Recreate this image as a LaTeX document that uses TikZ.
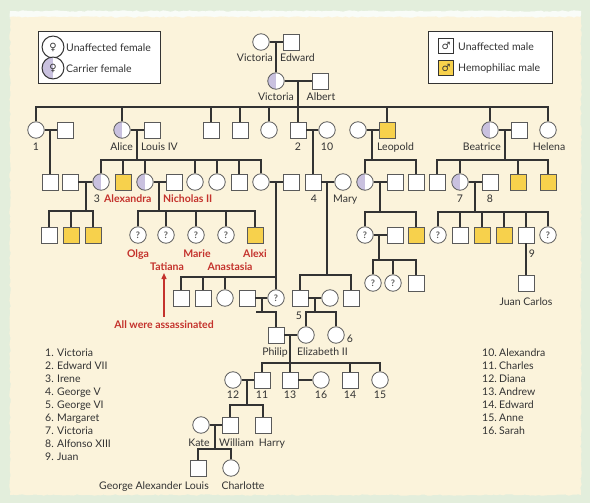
\documentclass[tikz,border=0pt]{standalone}
\usepackage{fontspec}
\setmainfont{Lato}
\newfontfamily\signfont{DejaVu Sans}
\usetikzlibrary{arrows.meta,decorations.pathmorphing}

\definecolor{mint}{HTML}{E3EEDC}
\definecolor{paper}{HTML}{FBF3DB}
\definecolor{lav}{HTML}{C9C1DF}
\definecolor{hemoyellow}{HTML}{F7D14C}
\definecolor{kinred}{HTML}{C4322C}
\definecolor{ink}{HTML}{333333}
\definecolor{edge}{HTML}{5A5A5A}

\tikzset{
  person/.style={draw=edge, fill=white, line width=0.8pt, inner sep=0pt},
  fem/.style={person, circle, minimum size=16.5pt},
  mal/.style={person, rectangle, minimum size=16pt},
  carrier/.style={fem, path picture={\fill[lav] (path picture bounding box.south west) rectangle (path picture bounding box.north);}},
  hemo/.style={mal, fill=hemoyellow},
  unk/.style={fem, text=edge, font=\fontsize{9}{9}\selectfont\bfseries},
  kin/.style={draw=ink, line width=1.2pt},
  lab/.style={anchor=base, inner sep=0pt, text=ink, font=\fontsize{10.5}{12}\selectfont},
  redlab/.style={lab, text=kinred, font=\fontsize{10.5}{12}\selectfont\bfseries},
  sign/.style={text=ink, font=\signfont\fontsize{10}{10}\selectfont}
}

\begin{document}
\begin{tikzpicture}[x=1pt,y=-1pt]
\useasboundingbox (0,0) rectangle (590,503);
% paper
\fill[mint] (0,0) rectangle (590,503);
\fill[white!80!mint, decorate, decoration={random steps,segment length=3pt,amplitude=0.7pt}]
  (10,11) -- (581,11) -- (581,19) -- (10,19) -- cycle;
\fill[paper, decorate, decoration={random steps,segment length=3pt,amplitude=0.7pt}]
  (10,17) -- (581,17) -- (581,495) -- (10,495) -- cycle;

% key
\node[draw=ink, fill=white, line width=0.8pt, minimum width=122pt, minimum height=52pt] (keyF) at (99,57) {};
\node[draw=ink, fill=white, line width=0.8pt, minimum width=124pt, minimum height=52pt] (keyM) at (490,57) {};
\node[fem, draw=ink, line width=1pt, minimum size=15.5pt] (keyF1) at (53,47) {\tikz[baseline]\node[sign,inner sep=0pt]{♀};};
\node[carrier, draw=ink, line width=1pt, minimum size=15.5pt] (keyF2) at (53,68) {\tikz[baseline]\node[sign,inner sep=0pt]{♀};};
\node[mal, draw=ink, line width=1pt, minimum size=15pt] (keyM1) at (446,46) {\tikz[baseline]\node[sign,inner sep=0pt]{♂};};
\node[hemo, draw=ink, line width=1pt, minimum size=15pt] (keyM2) at (446,68) {\tikz[baseline]\node[sign,inner sep=0pt]{♂};};
\node[lab, anchor=base west] (keyF1t) at (66,51.5) {Unaffected female};
\node[lab, anchor=base west] (keyF2t) at (66,73) {Carrier female};
\node[lab, anchor=base west] (keyM1t) at (458,51) {Unaffected male};
\node[lab, anchor=base west] (keyM2t) at (458,72) {Hemophiliac male};

% generation I and II
\node[fem] (vicI) at (261,42) {};
\node[mal] (edward) at (291,42) {};
\node[carrier] (vicII) at (276,81) {};
\node[mal] (albert) at (320,81) {};

% Victoria's children
\node[fem] (vicky) at (36,130) {};
\node[mal] (vickyH) at (65,130) {};
\node[carrier] (alice) at (122,130) {};
\node[mal] (louis) at (152,130) {};
\node[mal] (sonA) at (211,130) {};
\node[mal] (sonB) at (240,130) {};
\node[fem] (dauA) at (269,130) {};
\node[mal] (edw7) at (298,130) {};
\node[fem] (alexD) at (327,130) {};
\node[fem] (leoW) at (358,130) {};
\node[hemo] (leopold) at (387,130) {};
\node[carrier] (beatrice) at (490,130) {};
\node[mal] (beatriceH) at (519,130) {};
\node[fem] (helena) at (548,130) {};

% grandchildren
\node[mal] (vickyS) at (50,182) {};
\node[mal] (ireneH) at (70,182) {};
\node[carrier] (irene) at (101,182) {};
\node[hemo] (aliceS) at (123,182) {};
\node[carrier] (alexandra) at (145,182) {};
\node[mal] (nicholas) at (174,182) {};
\node[fem] (aliceD1) at (195,182) {};
\node[fem] (aliceD2) at (217,182) {};
\node[mal] (aliceS2) at (239,182) {};
\node[fem] (aliceD3) at (261,182) {};
\node[mal] (aliceD3H) at (291,182) {};
\node[mal] (george5) at (313,182) {};
\node[fem] (mary) at (343,182) {};
\node[carrier] (leoD) at (365,182) {};
\node[mal] (leoDH) at (395,182) {};
\node[mal] (leoS) at (416,182) {};
\node[mal] (beaS1) at (437,182) {};
\node[carrier] (vic7) at (460,182) {};
\node[mal] (alfonso) at (490,182) {};
\node[hemo] (beaS2) at (518,182) {};
\node[hemo] (beaS3) at (548,182) {};

% great-grandchildren
\node[mal] (ireneS1) at (49,235) {};
\node[hemo] (ireneS2) at (71,235) {};
\node[hemo] (ireneS3) at (93,235) {};
\node[unk] (olga) at (138,235) {?};
\node[unk] (tatiana) at (166,235) {?};
\node[unk] (marie) at (196,235) {?};
\node[unk] (anastasia) at (226,235) {?};
\node[hemo] (alexi) at (255,235) {};
\node[unk] (leoG) at (365,235) {?};
\node[mal] (leoGH) at (395,235) {};
\node[hemo] (leoGS) at (416,235) {};
\node[unk] (vic7D1) at (438,235) {?};
\node[mal] (vic7S1) at (460,235) {};
\node[hemo] (vic7S2) at (482,235) {};
\node[hemo] (vic7S3) at (504,235) {};
\node[mal] (juan) at (526,235) {};
\node[unk] (vic7D2) at (548,235) {?};

\node[unk] (leoGG1) at (373,283) {?};
\node[unk] (leoGG2) at (393,283) {?};
\node[mal] (leoGG3) at (416,283) {};
\node[mal] (juancarlos) at (526,283) {};

\node[mal] (d3S1) at (181,298) {};
\node[mal] (d3S2) at (203,298) {};
\node[fem] (d3D1) at (225,298) {};
\node[mal] (alice2H) at (247,298) {};
\node[unk] (alice2) at (276,298) {?};
\node[mal] (george6) at (300,298) {};
\node[fem] (george6W) at (330,298) {};
\node[mal] (george5S) at (351,298) {};

\node[mal] (philip) at (276,335) {};
\node[fem] (elizabeth) at (306,335) {};
\node[fem] (margaret) at (336,335) {};

\node[fem] (diana) at (233,380) {};
\node[mal] (charles) at (262,380) {};
\node[mal] (andrew) at (290,380) {};
\node[fem] (sarah) at (321,380) {};
\node[mal] (edwardW) at (350,380) {};
\node[fem] (anne) at (380,380) {};

\node[fem] (kate) at (201,425) {};
\node[mal] (william) at (230,425) {};
\node[mal] (harry) at (263,425) {};

\node[mal] (georgeP) at (198,468) {};
\node[fem] (charlotte) at (231,468) {};

% marriage midpoints and sibship bars
\coordinate (mI) at (276,42);
\coordinate (mII) at (298,81);      \coordinate (sII) at (298,107);
\coordinate (mVicky) at (50,130);
\coordinate (mAlice) at (137,130);  \coordinate (sAlice) at (137,160);
\coordinate (mEdw7) at (313,130);
\coordinate (mLeo) at (372,130);    \coordinate (sLeo) at (372,160);
\coordinate (mBea) at (505,130);    \coordinate (sBea) at (505,160);
\coordinate (mIrene) at (86,182);   \coordinate (sIrene) at (86,211);
\coordinate (mNic) at (159,182);    \coordinate (sNic) at (159,211);
\coordinate (mD3) at (276,182);     \coordinate (sD3) at (276,277);
\coordinate (mGeo5) at (327,182);   \coordinate (sGeo5) at (327,275);
\coordinate (mLeoD) at (380,182);   \coordinate (sLeoD) at (380,212);
\coordinate (mVic7) at (475,182);   \coordinate (sVic7) at (475,212);
\coordinate (mLeoG) at (379,235);   \coordinate (sLeoG) at (379,260);
\coordinate (mAlice2) at (262,298); \coordinate (sAlice2) at (262,312);
\coordinate (mGeo6) at (315,298);   \coordinate (sGeo6) at (315,312);
\coordinate (mPhil) at (290,335);   \coordinate (sPhil) at (290,363);
\coordinate (mCha) at (247,380);    \coordinate (sCha) at (247,405);
\coordinate (mWil) at (215,425);    \coordinate (sWil) at (215,449);

\begin{scope}[kin]
  % marriages
  \foreach \a/\b in {vicI/edward, vicII/albert, vicky/vickyH, alice/louis, edw7/alexD,
                     leoW/leopold, beatrice/beatriceH, ireneH/irene, alexandra/nicholas,
                     aliceD3/aliceD3H, george5/mary, leoD/leoDH, vic7/alfonso, leoG/leoGH,
                     alice2H/alice2, george6/george6W, philip/elizabeth, diana/charles,
                     andrew/sarah, kate/william}
    \draw (\a) -- (\b);
  % only children
  \draw (mI) -- (vicII);
  \draw (mVicky) -- (vickyS);
  \draw (mEdw7) -- (george5);
  \draw (mD3) -- (alice2);
  \draw (juan) -- (juancarlos);
  \draw (mAlice2) -- (sAlice2);
  \draw ([xshift=-6pt]sAlice2) -| (philip.north);
  % descents
  \foreach \m/\s in {mII/sII, mAlice/sAlice, mLeo/sLeo, mBea/sBea, mIrene/sIrene, mNic/sNic,
                     mGeo5/sGeo5, mLeoD/sLeoD, mVic7/sVic7, mLeoG/sLeoG, mGeo6/sGeo6,
                     mPhil/sPhil, mCha/sCha, mWil/sWil}
    \draw (\m) -- (\s);
  % children to their bars
  \foreach \k in {vicky,alice,sonA,sonB,dauA,edw7,leopold,beatrice,helena}
    \draw (\k.north) |- (sII);
  \foreach \k in {irene,aliceS,alexandra,aliceD1,aliceD2,aliceS2,aliceD3}
    \draw (\k.north) |- (sAlice);
  \foreach \k in {leoD,leoS} \draw (\k.north) |- (sLeo);
  \foreach \k in {beaS1,vic7,beaS2,beaS3} \draw (\k.north) |- (sBea);
  \foreach \k in {ireneS1,ireneS2,ireneS3} \draw (\k.north) |- (sIrene);
  \foreach \k in {olga,tatiana,marie,anastasia,alexi} \draw (\k.north) |- (sNic);
  \foreach \k in {d3S1,d3S2,d3D1} \draw (\k.north) |- (sD3);
  \foreach \k in {george6,george5S} \draw (\k.north) |- (sGeo5);
  \foreach \k in {leoG,leoGS} \draw (\k.north) |- (sLeoD);
  \foreach \k in {vic7D1,vic7S1,vic7S2,vic7S3,juan,vic7D2} \draw (\k.north) |- (sVic7);
  \foreach \k in {leoGG1,leoGG2,leoGG3} \draw (\k.north) |- (sLeoG);
  \foreach \k in {elizabeth,margaret} \draw (\k.north) |- (sGeo6);
  \foreach \k in {charles,andrew,edwardW,anne} \draw (\k.north) |- (sPhil);
  \foreach \k in {william,harry} \draw (\k.north) |- (sCha);
  \foreach \k in {georgeP,charlotte} \draw (\k.north) |- (sWil);
\end{scope}

% names
\node[lab, anchor=base east] (tVicI) at (273,62) {Victoria};
\node[lab, anchor=base west] (tEdward) at (280,62) {Edward};
\node[lab] (tVicII) at (276,101) {Victoria};
\node[lab] (tAlbert) at (321,101) {Albert};
\node[lab] (tVicky) at (36,150) {1};
\node[lab, anchor=base east] (tAlice) at (133,150) {Alice};
\node[lab, anchor=base west] (tLouis) at (141,150) {Louis IV};
\node[lab] (tEdw7) at (298,150) {2};
\node[lab] (tAlexD) at (327,150) {10};
\node[lab, anchor=base west] (tLeopold) at (377,150) {Leopold};
\node[lab, anchor=base east] (tBeatrice) at (501,150) {Beatrice};
\node[lab] (tHelena) at (549,150) {Helena};
\node[lab] (tIrene) at (97,203) {3};
\node[redlab, anchor=base west] (tAlexandra) at (104,203) {Alexandra};
\node[redlab, anchor=base west] (tNicholas) at (163,203) {Nicholas II};
\node[lab] (tGeorge5) at (314,203) {4};
\node[lab, anchor=base west] (tMary) at (333,203) {Mary};
\node[lab] (tVic7) at (460,203) {7};
\node[lab] (tAlfonso) at (490,203) {8};
\node[redlab] (tOlga) at (138,257) {Olga};
\node[redlab] (tTatiana) at (167,270) {Tatiana};
\node[redlab] (tMarie) at (197,257) {Marie};
\node[redlab] (tAnastasia) at (230,270) {Anastasia};
\node[redlab] (tAlexi) at (255,257) {Alexi};
\node[lab] (tJuan) at (532,257) {9};
\node[lab] (tJuanCarlos) at (526,305) {Juan Carlos};
\node[lab] (tGeorge6) at (299,319) {5};
\node[lab] (tMargaret) at (350,342) {6};
\node[lab, anchor=base east] (tPhilip) at (288,355) {Philip};
\node[lab, anchor=base west] (tElizabeth) at (297,355) {Elizabeth II};
\foreach \k/\n in {diana/12, charles/11, andrew/13, sarah/16, edwardW/14, anne/15}
  \node[lab] (t\k) at (\k |- 0,398) {\n};
\node[lab] (tKate) at (199,446) {Kate};
\node[lab, anchor=base west] (tWilliam) at (219,446) {William};
\node[lab] (tHarry) at (272,446) {Harry};
\node[lab] (tGeorgeP) at (154,489) {George Alexander Louis};
\node[lab] (tCharlotte) at (243,489) {Charlotte};

% the note
\node[redlab] (note) at (164,328) {All were assassinated};
\coordinate (noteTip) at (164,273);
\draw[kinred, line width=1.3pt, -{Triangle[length=6pt,width=5pt]}] ([yshift=3pt]note.north) -- (noteTip);

% who is who
\foreach \n/\who [count=\i from 0] in {1/Victoria, 2/Edward VII, 3/Irene, 4/George V, 5/George VI,
                                      6/Margaret, 7/Victoria, 8/Alfonso XIII, 9/Juan} {
  \node[lab, anchor=base west] (num\n) at (45,{356+13.1*\i}) {\n.};
  \node[lab, anchor=base west] (who\n) at (57,{356+13.1*\i}) {\who};
}
\foreach \n/\who [count=\i from 0] in {10/Alexandra, 11/Charles, 12/Diana, 13/Andrew,
                                      14/Edward, 15/Anne, 16/Sarah} {
  \node[lab, anchor=base west] (num\n) at (482,{356+13.1*\i}) {\n.};
  \node[lab, anchor=base west] (who\n) at (499,{356+13.1*\i}) {\who};
}
\end{tikzpicture}
\end{document}
